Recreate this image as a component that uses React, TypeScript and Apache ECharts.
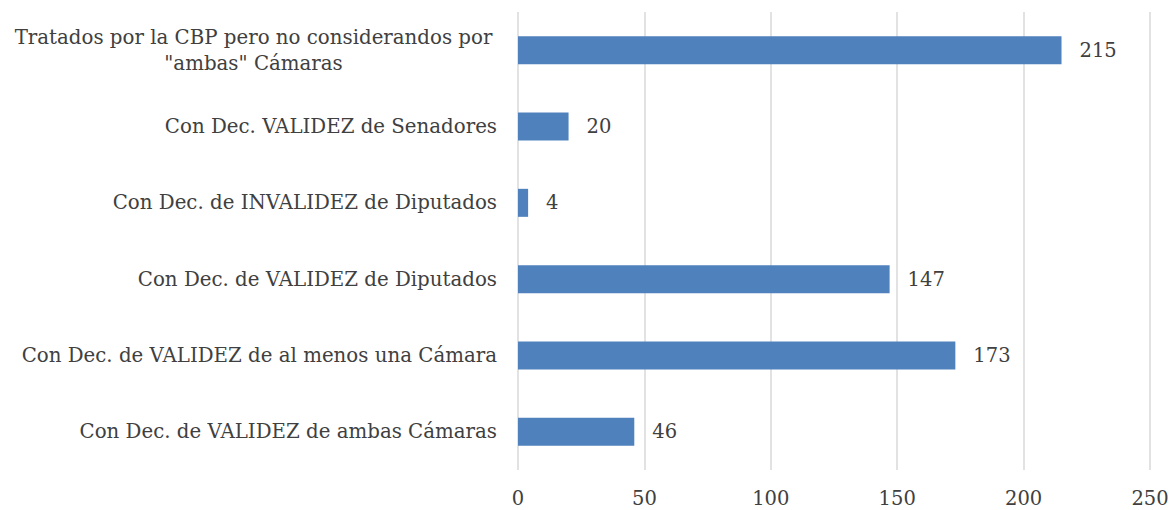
import React, { useEffect, useRef } from "react";
import * as echarts from "echarts";

const categories = [
  'Tratados por la CBP pero no considerandos por\n"ambas" Cámaras',
  "Con Dec. VALIDEZ de Senadores",
  "Con Dec. de INVALIDEZ de Diputados",
  "Con Dec. de VALIDEZ de Diputados",
  "Con Dec. de VALIDEZ de al menos una Cámara",
  "Con Dec. de VALIDEZ de ambas Cámaras",
];
const values = [215, 20, 4, 147, 173, 46];
const xTicks = { min: 0, max: 250, interval: 50 };

const FONT = "DejaVu Serif";
const TEXT = "#404040";
const FS = 19.5;
const CFS = 19.8;

export default function App() {
  const ref = useRef<HTMLDivElement>(null);
  useEffect(() => {
    const chart = echarts.init(ref.current!, null, { renderer: "svg" });
    chart.setOption({
      animation: false,
      backgroundColor: "#ffffff",
      grid: { left: 518, right: 23, top: 12, bottom: 40, containLabel: false },
      xAxis: {
        type: "value",
        min: xTicks.min,
        max: xTicks.max,
        interval: xTicks.interval,
        axisLine: { show: false },
        axisTick: { show: false },
        axisLabel: { color: TEXT, fontFamily: FONT, fontSize: FS, margin: 18 },
        splitLine: { show: true, lineStyle: { color: "#d9d9d9", width: 1.5 } },
      },
      yAxis: {
        type: "category",
        inverse: true,
        data: categories,
        axisLine: { show: false },
        axisTick: { show: false },
        axisLabel: {
          color: TEXT,
          fontFamily: FONT,
          fontSize: CFS,
          margin: 21,
          lineHeight: 26,
          formatter: (v: string) =>
            v.indexOf("\n") >= 0
              ? v
                  .split("\n")
                  .map((l) => "{w|" + l + "}")
                  .join("\n")
              : v,
          rich: {
            w: {
              width: 487,
              align: "center",
              color: TEXT,
              fontFamily: FONT,
              fontSize: CFS,
              lineHeight: 26,
            },
          },
        },
      },
      series: [
        {
          type: "bar",
          data: values,
          barWidth: 28,
          itemStyle: { color: "#4f81bd" },
          label: {
            show: true,
            position: "right",
            distance: 18,
            color: TEXT,
            fontFamily: FONT,
            fontSize: FS,
          },
        },
      ],
    });
    return () => chart.dispose();
  }, []);
  return (
    <div
      ref={ref}
      style={{ position: "fixed", left: 0, top: 0, width: 1173, height: 510 }}
    />
  );
}
